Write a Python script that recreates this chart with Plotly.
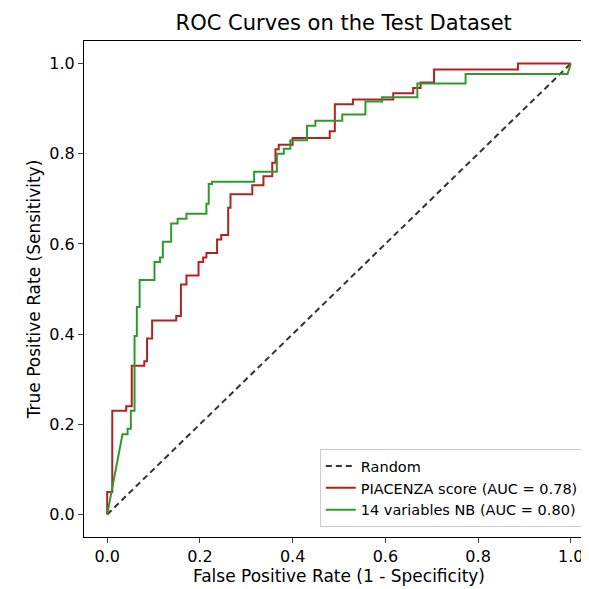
import plotly.graph_objects as go

# ROC curve points
piacenza_fpr = [0, 0, 0.011, 0.011, 0.041, 0.041, 0.053, 0.053, 0.080, 0.080, 0.086, 0.086,
                0.097, 0.097, 0.149, 0.149, 0.159, 0.159, 0.171, 0.171, 0.197, 0.197, 0.207, 0.207,
                0.214, 0.214, 0.237, 0.237, 0.246, 0.246, 0.261, 0.261, 0.266, 0.266, 0.313, 0.313,
                0.337, 0.337, 0.356, 0.356, 0.363, 0.363, 0.370, 0.370, 0.40, 0.40, 0.48, 0.48,
                0.491, 0.491, 0.53, 0.53, 0.617, 0.617, 0.66, 0.66, 0.676, 0.676, 0.705, 0.705,
                0.886, 0.886, 1.0]
piacenza_tpr = [0, 0.05, 0.05, 0.23, 0.23, 0.24, 0.24, 0.33, 0.33, 0.34, 0.34, 0.39,
                0.39, 0.43, 0.43, 0.44, 0.44, 0.51, 0.51, 0.53, 0.53, 0.56, 0.56, 0.57,
                0.57, 0.58, 0.58, 0.61, 0.61, 0.62, 0.62, 0.68, 0.68, 0.71, 0.71, 0.73,
                0.73, 0.75, 0.75, 0.78, 0.78, 0.81, 0.81, 0.82, 0.82, 0.835, 0.835, 0.85,
                0.85, 0.91, 0.91, 0.92, 0.92, 0.934, 0.934, 0.946, 0.946, 0.958, 0.958, 0.987,
                0.987, 1.0, 1.0]

nb_fpr = [0, 0.033, 0.044, 0.044, 0.051, 0.051, 0.059, 0.059, 0.064, 0.064, 0.070, 0.070,
          0.102, 0.102, 0.114, 0.114, 0.120, 0.120, 0.138, 0.138, 0.152, 0.152, 0.171, 0.171,
          0.214, 0.214, 0.219, 0.219, 0.226, 0.226, 0.317, 0.317, 0.366, 0.366, 0.381, 0.381,
          0.395, 0.395, 0.431, 0.431, 0.449, 0.449, 0.507, 0.507, 0.557, 0.557, 0.593, 0.593,
          0.669, 0.669, 0.773, 0.773, 0.993, 0.993, 1.0]
nb_tpr = [0, 0.178, 0.178, 0.19, 0.19, 0.23, 0.23, 0.396, 0.396, 0.46, 0.46, 0.52,
          0.52, 0.56, 0.56, 0.57, 0.57, 0.605, 0.605, 0.645, 0.645, 0.656, 0.656, 0.667,
          0.667, 0.689, 0.689, 0.733, 0.733, 0.738, 0.738, 0.76, 0.76, 0.80, 0.80, 0.811,
          0.811, 0.83, 0.83, 0.862, 0.862, 0.873, 0.873, 0.887, 0.887, 0.916, 0.916, 0.925,
          0.925, 0.956, 0.956, 0.977, 0.977, 0.977, 1.0]

random_x = [0, 1]
random_y = [0, 1]
tick_vals = [0.0, 0.2, 0.4, 0.6, 0.8, 1.0]

fig = go.Figure()
fig.add_trace(go.Scatter(x=random_x, y=random_y, mode='lines', name='Random',
                         line=dict(color='#333333', width=2, dash='6px,4px')))
fig.add_trace(go.Scatter(x=piacenza_fpr, y=piacenza_tpr, mode='lines',
                         name='PIACENZA score (AUC = 0.78)',
                         line=dict(color='#b22222', width=2)))
fig.add_trace(go.Scatter(x=nb_fpr, y=nb_tpr, mode='lines',
                         name='14 variables NB (AUC = 0.80)',
                         line=dict(color='#2e9a2e', width=2)))

axis_style = dict(range=[-0.05, 1.05], tickvals=tick_vals, ticktext=[f"{v:.1f}" for v in tick_vals],
                  showgrid=False, zeroline=False, showline=True, linecolor='black', linewidth=1,
                  mirror=True, ticks='outside', ticklen=5, tickfont=dict(size=16, color='black'))

fig.update_layout(
    width=589, height=589,
    font=dict(family='DejaVu Sans', color='black'),
    title=dict(text='ROC Curves on the Test Dataset', x=0.57, xanchor='center',
               y=0.988, yanchor='top', font=dict(size=21)),
    margin=dict(l=76, r=3, t=33, b=60),
    plot_bgcolor='white', paper_bgcolor='white',
    xaxis=dict(axis_style, title=dict(text='False Positive Rate (1 - Specificity)',
                                      font=dict(size=17), standoff=2)),
    yaxis=dict(axis_style, title=dict(text='True Positive Rate (Sensitivity)',
                                      font=dict(size=17), standoff=4)),
    legend=dict(x=0.98, y=0.02, xanchor='right', yanchor='bottom', bgcolor='white',
                bordercolor='#cccccc', borderwidth=1, font=dict(size=14.5)),
)

fig.write_html("out.html")
